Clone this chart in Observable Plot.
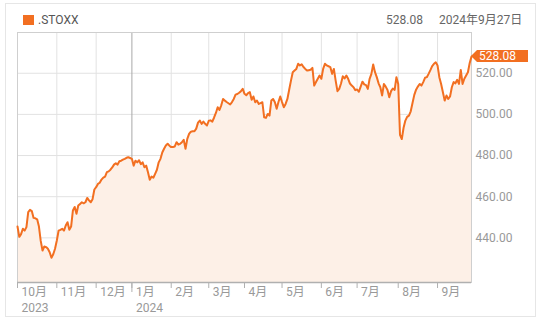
<!DOCTYPE html>
<html>
<head>
<meta charset="utf-8">
<script src="https://cdn.jsdelivr.net/npm/d3@7"></script>
<script src="https://cdn.jsdelivr.net/npm/@observablehq/plot@0.6"></script>
<style>
  html, body { margin: 0; padding: 0; background: #fff; }
  #wrap { position: relative; width: 541px; height: 321px; overflow: hidden;
          font-family: Roboto, "Noto Sans CJK JP", sans-serif; font-size: 12px; }
  #frame { position: absolute; left: 5px; top: 3px; width: 531px; height: 314px;
           border: 1px solid #e6e6e6; box-sizing: border-box; }
  .hd { position: absolute; top: 12px; line-height: 16px; white-space: nowrap; }
  #swatch { position: absolute; left: 23px; top: 15px; width: 11px; height: 10px; }
  #chart { position: absolute; left: 0; top: 28px; }
</style>
</head>
<body>
<div id="wrap">
  <div id="frame"></div>
  <div id="swatch"></div>
  <div class="hd" id="name" style="left:38px;color:#555"></div>
  <div class="hd" id="last" style="left:386px;color:#666"></div>
  <div class="hd" id="date" style="left:439px;color:#666"></div>
  <div id="chart"></div>
</div>
<script>
// ---- data ----
const seriesName = ".STOXX";
const lastValue = 528.08;
const lastDate = "2024年9月27日";
const monthLabels = ["10月","11月","12月","1月","2月","3月","4月","5月","6月","7月","8月","9月"];
const yearLabels  = ["2023","","","2024","","","","","","","",""];
const yTicks = [440, 460, 480, 500, 520];
const yDomain = [418.3, 539.8];

// daily closes per month (trading days)
const oct2023 = [445.5,440.5,441.8,444.4,443.5,445.2,452.5,453.6,453.0,449.7,449.5,449.0,445.5,438.5,433.8,435.8,435.5,434.7,433.0,430.3,432.0,434.7];
const nov2023 = [438.7,443.5,443.9,444.4,443.5,446.0,447.6,443.9,445.5,453.3,455.0,451.7,455.7,456.5,457.3,456.8,457.3,459.4,458.2,457.3,458.8,463.5];
const dec2023 = [464.6,466.2,466.8,468.3,469.3,469.8,471.9,472.3,473.1,474.2,475.6,476.3,475.6,477.2,477.5,478.0,478.4,478.9,479.2,478.8];
const jan2024 = [478.4,475.1,477.5,476.7,477.7,475.8,476.7,474.3,475.1,471.9,468.2,469.8,469.2,471.1,473.1,476.7,478.4,481.5,483.3,484.9,485.7,484.8];
const feb2024 = [484.1,484.2,484.4,486.5,485.3,485.7,486.5,487.6,483.3,488.1,490.5,491.6,491.8,491.8,493.1,496.0,497.0,495.4,496.5,495.4,494.6];
const mar2024 = [496.9,497.1,496.5,498.5,500.7,503.5,502.2,504.4,507.5,506.7,506.0,505.4,504.8,506.0,507.5,509.6,509.9,510.5,511.3,512.4];
const apr2024 = [510.0,509.3,510.3,510.8,507.1,508.7,505.9,506.7,505.1,505.5,505.9,498.6,498.3,500.2,499.4,506.7,507.5,505.9,502.7,506.0,508.7];
const may2024 = [506.0,503.5,505.1,507.5,512.0,516.4,520.5,521.3,522.1,524.6,523.8,524.3,523.0,522.1,521.3,521.5,521.7,522.6,514.0,515.7,517.3,518.9];
const jun2024 = [517.3,522.1,524.6,523.8,523.4,523.0,519.7,522.1,516.4,511.3,512.4,515.0,518.5,517.5,518.9,517.3,515.0,514.0,513.2,511.8];
const jul2024 = [512.1,511.0,513.5,515.9,514.6,514.2,512.4,517.3,519.7,524.3,520.5,518.1,515.1,513.2,509.2,514.8,513.5,511.9,508.3,511.3,512.6,511.9,518.1];
const aug2024 = [514.8,490.0,488.0,493.5,497.0,498.8,499.4,501.5,505.5,509.5,512.0,513.5,514.8,514.0,515.7,517.8,518.1,519.7,521.5,523.5,524.6,525.3];
const sep2024 = [523.8,518.1,514.8,510.8,506.7,509.2,507.5,508.7,513.2,515.7,515.1,516.8,514.8,521.6,514.8,517.3,518.9,520.5,525.0,528.08];

const monthValues = [oct2023,nov2023,dec2023,jan2024,feb2024,mar2024,apr2024,may2024,jun2024,jul2024,aug2024,sep2024];

// ---- build table ----
const data = [];
const monthStarts = [];
monthValues.forEach(arr => {
  monthStarts.push(data.length);
  arr.forEach(v => data.push({i: data.length, v}));
});
const N = data.length;
const yearStarts = monthStarts.filter((s, k) => yearLabels[k] !== "");
const yearTexts = yearLabels.filter(t => t !== "");
const innerStarts = monthStarts.slice(1).filter(s => !yearStarts.includes(s));
const innerYear = yearStarts.filter(s => s !== 0);

const orange = "#f26f21";
const gray = "#999";
const font = 'Roboto, "Noto Sans CJK JP", sans-serif';

document.getElementById("swatch").style.background = orange;
document.getElementById("name").textContent = seriesName;
document.getElementById("last").textContent = lastValue.toFixed(2);
document.getElementById("date").textContent = lastDate;

const chart = Plot.plot({
  width: 541,
  height: 293,
  marginLeft: 17,
  marginRight: 70,
  marginTop: 4,
  marginBottom: 39,
  style: {fontFamily: font, fontSize: "12px", background: "transparent", overflow: "visible"},
  x: {domain: [0, N - 1], axis: null},
  y: {domain: yDomain, axis: null},
  marks: [
    Plot.ruleY(yTicks, {stroke: "#e2e2e2"}),
    Plot.ruleX(innerStarts, {stroke: "#e2e2e2"}),
    Plot.ruleX(innerYear, {stroke: "#a8a8a8"}),
    Plot.areaY(data, {x: "i", y1: yDomain[0], y2: "v", fill: "#fdf0e7"}),
    Plot.frame({stroke: "#cfcfcf"}),
    Plot.ruleY([yDomain[0]], {stroke: "#b0b0b0", strokeWidth: 1.5}),
    Plot.lineY(data, {x: "i", y: "v", stroke: orange, strokeWidth: 2}),
    Plot.axisY({anchor: "right", ticks: yTicks, tickSize: 0, tickPadding: 4,
                tickFormat: d => d.toFixed(2), color: gray, label: null}),
    Plot.axisX({ticks: monthStarts, tickSize: 6, tickFormat: () => "", color: "#b0b0b0", label: null}),
    Plot.axisX({ticks: innerYear, tickSize: 10, tickFormat: () => "", color: "#b0b0b0", label: null}),
    Plot.text(monthStarts, {x: d => d, text: (d, k) => monthLabels[k], frameAnchor: "bottom",
                            dy: 10, dx: 4, textAnchor: "start", lineAnchor: "middle", fill: gray}),
    Plot.text(yearStarts, {x: d => d, text: (d, k) => yearTexts[k], frameAnchor: "bottom",
                           dy: 26, dx: 4, textAnchor: "start", lineAnchor: "middle", fill: gray})
  ]
});

// last-value tag positioned with the plot's own scales
const ys = chart.scale("y");
const xs = chart.scale("x");
const ty = ys.apply(lastValue);
const tx = xs.apply(N - 1);
const g = d3.select(chart).append("g");
g.append("path")
  .attr("d", `M${tx},${ty} L${tx + 6},${ty - 6} L${tx + 57},${ty - 6} L${tx + 57},${ty + 6} L${tx + 6},${ty + 6} Z`)
  .attr("fill", orange);
g.append("text")
  .attr("x", tx + 8).attr("y", ty).attr("dy", "0.35em")
  .attr("text-anchor", "start")
  .attr("fill", "#fff").attr("font-size", 12).attr("font-family", font)
  .text(lastValue.toFixed(2));

document.getElementById("chart").appendChild(chart);
</script>
</body>
</html>
